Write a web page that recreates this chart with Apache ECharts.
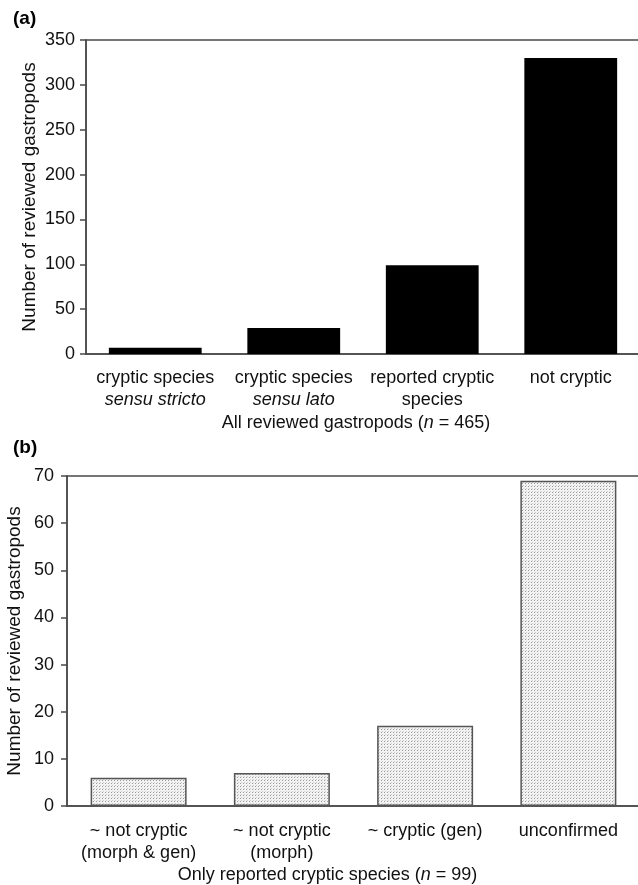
<!DOCTYPE html>
<html>
<head>
<meta charset="utf-8">
<script src="https://cdn.jsdelivr.net/npm/echarts@6/dist/echarts.min.js"></script>
<style>
html,body{margin:0;padding:0;background:#fff;}
#c{width:638px;height:885px;}
</style>
</head>
<body>
<div id="c"></div>
<script>
// Panel (a)
const catsA = ['cryptic species\n{i|sensu stricto}', 'cryptic species\n{i|sensu lato}', 'reported cryptic\nspecies', 'not cryptic'];
const valsA = [7, 29, 99, 330];
const yTicksA = {min: 0, max: 350, interval: 50};
// Panel (b)
const catsB = ['~ not cryptic\n(morph & gen)', '~ not cryptic\n(morph)', '~ cryptic (gen)', 'unconfirmed'];
const valsB = [6, 7, 17, 69];
const yTicksB = {min: 0, max: 70, interval: 10};

const FONT = "'Liberation Sans', Arial, sans-serif";
const FS = 18;
const AX = '#4a4a4a';

// dotted fill pattern
const pc = document.createElement('canvas');
pc.width = 3; pc.height = 3;
const px = pc.getContext('2d');
px.fillStyle = '#f3f3f3'; px.fillRect(0,0,3,3);
px.fillStyle = '#9a9a9a'; px.fillRect(0,0,1,1);
px.fillStyle = '#cccccc'; px.fillRect(1,2,1,1);

const chart = echarts.init(document.getElementById('c'), null, {renderer: 'canvas'});

function xAx(idx, cats, nameRich, pad, gap, margin) {
  return {
    type: 'category', gridIndex: idx, data: cats, position: 'bottom',
    axisLine: {lineStyle: {color: AX, width: 1.5}},
    axisTick: {show: false},
    axisLabel: {
      interval: 0, color: '#111', fontFamily: FONT, fontSize: FS, lineHeight: 22, margin: margin,
      rich: {i: {fontStyle: 'italic', fontFamily: FONT, fontSize: FS, color: '#111', lineHeight: 22}}
    },
    name: nameRich, nameLocation: 'middle', nameGap: gap, nameMoveOverlap: false,
    nameTextStyle: {color: '#111', fontFamily: FONT, fontSize: FS, padding: pad,
      rich: {i: {fontStyle: 'italic', fontFamily: FONT, fontSize: FS, color: '#111'}}}
  };
}
function yAx(idx, t, gap, margin) {
  return {
    type: 'value', gridIndex: idx, min: t.min, max: t.max, interval: t.interval,
    axisLine: {show: true, lineStyle: {color: AX, width: 1.5}},
    axisTick: {show: true, inside: false, length: 6, lineStyle: {color: AX, width: 1.5}},
    splitLine: {show: false},
    axisLabel: {color: '#111', fontFamily: FONT, fontSize: FS, margin: margin},
    name: 'Number of reviewed gastropods', nameLocation: 'middle', nameGap: gap, nameRotate: 90,
    nameMoveOverlap: false,
    nameTextStyle: {color: '#111', fontFamily: FONT, fontSize: 19}
  };
}

chart.setOption({
  animation: false,
  backgroundColor: '#fff',
  title: [
    {text: '(a)', left: 8, top: 4, textStyle: {fontFamily: FONT, fontSize: 19, fontWeight: 'bold', color: '#000'}},
    {text: '(b)', left: 8, top: 433, textStyle: {fontFamily: FONT, fontSize: 19, fontWeight: 'bold', color: '#000'}}
  ],
  grid: [
    {left: 86, top: 40, right: -2, height: 314, show: true, borderColor: AX, borderWidth: 1.5,
      backgroundColor: 'transparent', outerBoundsMode: 'none', containLabel: false},
    {left: 67, top: 476, right: -2, height: 330, show: true, borderColor: AX, borderWidth: 1.5,
      backgroundColor: 'transparent', outerBoundsMode: 'none', containLabel: false}
  ],
  xAxis: [
    xAx(0, catsA, 'All reviewed gastropods ({i|n} = 465)', [0, 14, 0, 0], 60, 13),
    xAx(1, catsB, 'Only reported cryptic species ({i|n} = 99)', [0, 52, 0, 0], 60, 14)
  ],
  yAxis: [
    yAx(0, yTicksA, 47, 11),
    yAx(1, yTicksB, 43, 13)
  ],
  series: [
    {type: 'bar', xAxisIndex: 0, yAxisIndex: 0, data: valsA, barCategoryGap: '33%',
      itemStyle: {color: '#000'}},
    {type: 'bar', xAxisIndex: 1, yAxisIndex: 1, data: valsB, barCategoryGap: '33%',
      itemStyle: {color: {image: pc, repeat: 'repeat'}, borderColor: '#555', borderWidth: 1.5}}
  ]
});
</script>
</body>
</html>
